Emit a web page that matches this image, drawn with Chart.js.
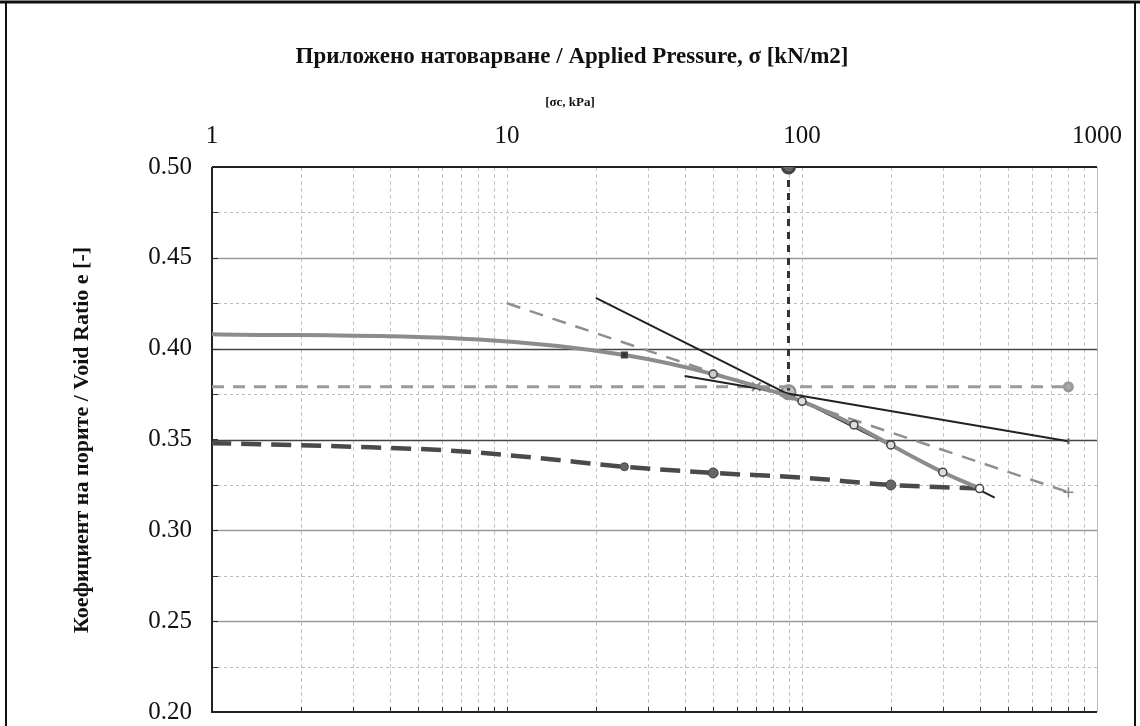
<!DOCTYPE html>
<html>
<head>
    <title>Void Ratio vs Applied Pressure</title>
    <script src="https://cdn.jsdelivr.net/npm/chart.js"></script>
    <style>
        body { margin: 0; background: #fff; }
        canvas { display: block; }
    </style>
</head>
<body>
    <canvas id="oedoChart" width="1140" height="726"></canvas>

    <script>
        // tick labels
        const xTickValues = [1, 10, 100, 1000];
        const yTickValues = [0.20, 0.25, 0.30, 0.35, 0.40, 0.45, 0.50];

        // loading curve
        const loadP = [1, 8, 25, 50, 100, 150, 200, 300, 400];
        const loadE = [0.408, 0.405, 0.3965, 0.386, 0.371, 0.358, 0.347, 0.332, 0.323];

        // unloading curve
        const unloadP = [400, 200, 100, 50, 25, 12.5, 6.25, 3, 1];
        const unloadE = [0.323, 0.325, 0.329, 0.3316, 0.335, 0.340, 0.344, 0.346, 0.348];

        // construction lines
        const steepP = [20, 450];
        const steepE = [0.428, 0.318];
        const flatP = [40, 800];
        const flatE = [0.385, 0.349];
        const bisectP = [10, 800];
        const bisectE = [0.425, 0.321];
        const horizP = [1, 800];
        const horizE = [0.379, 0.379];
        const sigmaCP = [90, 90];
        const sigmaCE = [0.50, 0.377];
        const markP = [70, 90];
        const markE = [0.379, 0.376];

        const titleText = 'Приложено натоварване / Applied Pressure, σ [kN/m2]';
        const subText = '[σc, kPa]';
        const yTitleText = 'Коефициент на порите / Void Ratio e [-]';

        function pts(px, py) {
            return px.map((p, i) => ({ x: p, y: py[i] }));
        }

        const serif = '"Liberation Serif", "Times New Roman", serif';

        const gridPlugin = {
            id: 'gridPlugin',
            beforeDatasetsDraw(chart) {
                const ctx = chart.ctx;
                const xs = chart.scales.x;
                const ys = chart.scales.y;
                const a = chart.chartArea;
                ctx.save();
                // vertical log grid
                ctx.strokeStyle = '#c4c4c4';
                ctx.lineWidth = 1;
                ctx.setLineDash([4, 3]);
                for (let d = 0; d < 3; d++) {
                    for (let m = 1; m <= 9; m++) {
                        const v = m * Math.pow(10, d);
                        if (v <= 1) continue;
                        const x = Math.round(xs.getPixelForValue(v)) + 0.5;
                        ctx.beginPath();
                        ctx.moveTo(x, a.top);
                        ctx.lineTo(x, a.bottom);
                        ctx.stroke();
                    }
                }
                // minor horizontal
                ctx.strokeStyle = '#bdbdbd';
                ctx.setLineDash([3, 3]);
                for (let k = 0; k < 6; k++) {
                    const y = Math.round(ys.getPixelForValue(0.225 + k * 0.05)) + 0.5;
                    ctx.beginPath();
                    ctx.moveTo(a.left, y);
                    ctx.lineTo(a.right, y);
                    ctx.stroke();
                }
                // major horizontal
                ctx.setLineDash([]);
                yTickValues.forEach(v => {
                    if (v <= 0.2 || v >= 0.5) return;
                    const y = Math.round(ys.getPixelForValue(v)) + 0.5;
                    ctx.strokeStyle = (v === 0.40 || v === 0.35) ? '#444' : '#999';
                    ctx.lineWidth = 1.4;
                    ctx.beginPath();
                    ctx.moveTo(a.left, y);
                    ctx.lineTo(a.right, y);
                    ctx.stroke();
                });
                // frame of plot
                ctx.strokeStyle = '#bbb';
                ctx.lineWidth = 1;
                ctx.beginPath();
                ctx.moveTo(a.right + 0.5, a.top);
                ctx.lineTo(a.right + 0.5, a.bottom);
                ctx.stroke();
                ctx.strokeStyle = '#222';
                ctx.lineWidth = 2;
                ctx.beginPath();
                ctx.moveTo(a.left, a.top);
                ctx.lineTo(a.right, a.top);
                ctx.moveTo(a.left, a.top);
                ctx.lineTo(a.left, a.bottom);
                ctx.lineTo(a.right, a.bottom);
                ctx.stroke();
                // small ticks on bottom and left
                ctx.lineWidth = 1;
                ctx.strokeStyle = '#333';
                for (let d = 0; d < 3; d++) {
                    for (let m = 1; m <= 9; m++) {
                        const v = m * Math.pow(10, d);
                        if (v <= 1) continue;
                        const x = Math.round(xs.getPixelForValue(v)) + 0.5;
                        ctx.beginPath();
                        ctx.moveTo(x, a.bottom);
                        ctx.lineTo(x, a.bottom - 5);
                        ctx.stroke();
                    }
                }
                for (let k = 1; k < 12; k++) {
                    const y = Math.round(ys.getPixelForValue(0.2 + k * 0.025)) + 0.5;
                    ctx.beginPath();
                    ctx.moveTo(a.left, y);
                    ctx.lineTo(a.left + 6, y);
                    ctx.stroke();
                }
                ctx.restore();
            },
            afterDraw(chart) {
                const ctx = chart.ctx;
                ctx.save();
                // outer frame
                ctx.strokeStyle = '#111';
                ctx.lineWidth = 3;
                ctx.beginPath();
                ctx.moveTo(0, 2);
                ctx.lineTo(1140, 2);
                ctx.stroke();
                ctx.lineWidth = 2;
                ctx.beginPath();
                ctx.moveTo(6, 2);
                ctx.lineTo(6, 726);
                ctx.moveTo(1135, 2);
                ctx.lineTo(1135, 726);
                ctx.stroke();
                // titles
                ctx.fillStyle = '#111';
                ctx.textAlign = 'center';
                ctx.textBaseline = 'middle';
                ctx.font = 'bold 23px ' + serif;
                ctx.fillText(titleText, 572, 57);
                ctx.font = 'bold 13px ' + serif;
                ctx.fillText(subText, 570, 103);
                ctx.font = 'bold 22px ' + serif;
                ctx.translate(82, 440);
                ctx.rotate(-Math.PI / 2);
                ctx.fillText(yTitleText, 0, 0);
                ctx.restore();
            }
        };

        const ctx = document.getElementById('oedoChart').getContext('2d');
        const chart = new Chart(ctx, {
            type: 'line',
            data: {
                datasets: [
                    {
                        label: 'Loading',
                        data: pts(loadP, loadE),
                        borderColor: '#8c8c8c',
                        borderWidth: 4,
                        cubicInterpolationMode: 'monotone',
                        pointRadius: [0, 0, 4, 4, 4, 4, 4, 4, 4],
                        pointStyle: ['circle', 'circle', 'rect', 'circle', 'circle', 'circle', 'circle', 'circle', 'circle'],
                        pointBackgroundColor: ['#ddd', '#ddd', '#333', '#ccc', '#ddd', '#ddd', '#ddd', '#ddd', '#fff'],
                        pointBorderColor: '#444',
                        pointBorderWidth: 1.5
                    },
                    {
                        label: 'Unloading',
                        data: pts(unloadP, unloadE),
                        borderColor: '#4a4a4a',
                        borderWidth: 4.5,
                        borderDash: [20, 10],
                        cubicInterpolationMode: 'monotone',
                        pointRadius: [0, 5, 0, 5, 4, 0, 0, 0, 0],
                        pointBackgroundColor: '#666',
                        pointBorderColor: '#444',
                        pointBorderWidth: 1
                    },
                    {
                        label: 'Cc line',
                        data: pts(steepP, steepE),
                        borderColor: '#222',
                        borderWidth: 2,
                        pointRadius: 0
                    },
                    {
                        label: 'Tangent',
                        data: pts(flatP, flatE),
                        borderColor: '#222',
                        borderWidth: 2,
                        pointRadius: [0, 3],
                        pointStyle: 'line',
                        pointRotation: 90,
                        pointBorderColor: '#555'
                    },
                    {
                        label: 'Bisector',
                        data: pts(bisectP, bisectE),
                        borderColor: '#8f8f8f',
                        borderWidth: 2.5,
                        borderDash: [14, 10],
                        pointRadius: [0, 5],
                        pointStyle: 'cross',
                        pointBorderColor: '#888',
                        pointBorderWidth: 1.5
                    },
                    {
                        label: 'Horizontal',
                        data: pts(horizP, horizE),
                        borderColor: '#9a9a9a',
                        borderWidth: 3,
                        borderDash: [12, 9],
                        pointRadius: [0, 4],
                        pointBackgroundColor: '#aaa',
                        pointBorderColor: '#999'
                    },
                    {
                        label: 'sigma c',
                        data: pts(sigmaCP, sigmaCE),
                        borderColor: '#333',
                        borderWidth: 3,
                        borderDash: [7, 6],
                        pointRadius: [6, 0],
                        pointBackgroundColor: '#666',
                        pointBorderColor: '#444'
                    },
                    {
                        label: 'Marks',
                        data: pts(markP, markE),
                        showLine: false,
                        pointRadius: [6, 7],
                        pointStyle: ['crossRot', 'circle'],
                        pointBackgroundColor: 'rgba(150,150,150,0.6)',
                        pointBorderColor: '#888',
                        pointBorderWidth: 2
                    }
                ]
            },
            options: {
                responsive: false,
                animation: false,
                devicePixelRatio: 1,
                layout: {
                    padding: { top: 120, left: 100, right: 43, bottom: 14 }
                },
                plugins: {
                    legend: { display: false },
                    tooltip: { enabled: false }
                },
                scales: {
                    x: {
                        type: 'logarithmic',
                        position: 'top',
                        min: 1,
                        max: 1000,
                        afterFit(scale) {
                            scale.height = 47;
                            scale.paddingLeft = 0;
                            scale.paddingRight = 0;
                        },
                        afterBuildTicks(scale) {
                            scale.ticks = xTickValues.map(v => ({ value: v }));
                        },
                        grid: { display: false, drawTicks: false },
                        border: { display: false },
                        ticks: {
                            autoSkip: false,
                            maxRotation: 0,
                            padding: 16,
                            color: '#111',
                            font: { family: serif, size: 25 },
                            callback: v => String(v)
                        }
                    },
                    y: {
                        type: 'linear',
                        min: 0.2,
                        max: 0.5,
                        afterFit(scale) {
                            scale.width = 112;
                            scale.paddingTop = 0;
                            scale.paddingBottom = 0;
                        },
                        afterBuildTicks(scale) {
                            scale.ticks = yTickValues.map(v => ({ value: v }));
                        },
                        grid: { display: false, drawTicks: false },
                        border: { display: false },
                        ticks: {
                            padding: 20,
                            color: '#111',
                            font: { family: serif, size: 25 },
                            callback: v => Number(v).toFixed(2)
                        }
                    }
                }
            },
            plugins: [gridPlugin]
        });
    </script>
</body>
</html>
